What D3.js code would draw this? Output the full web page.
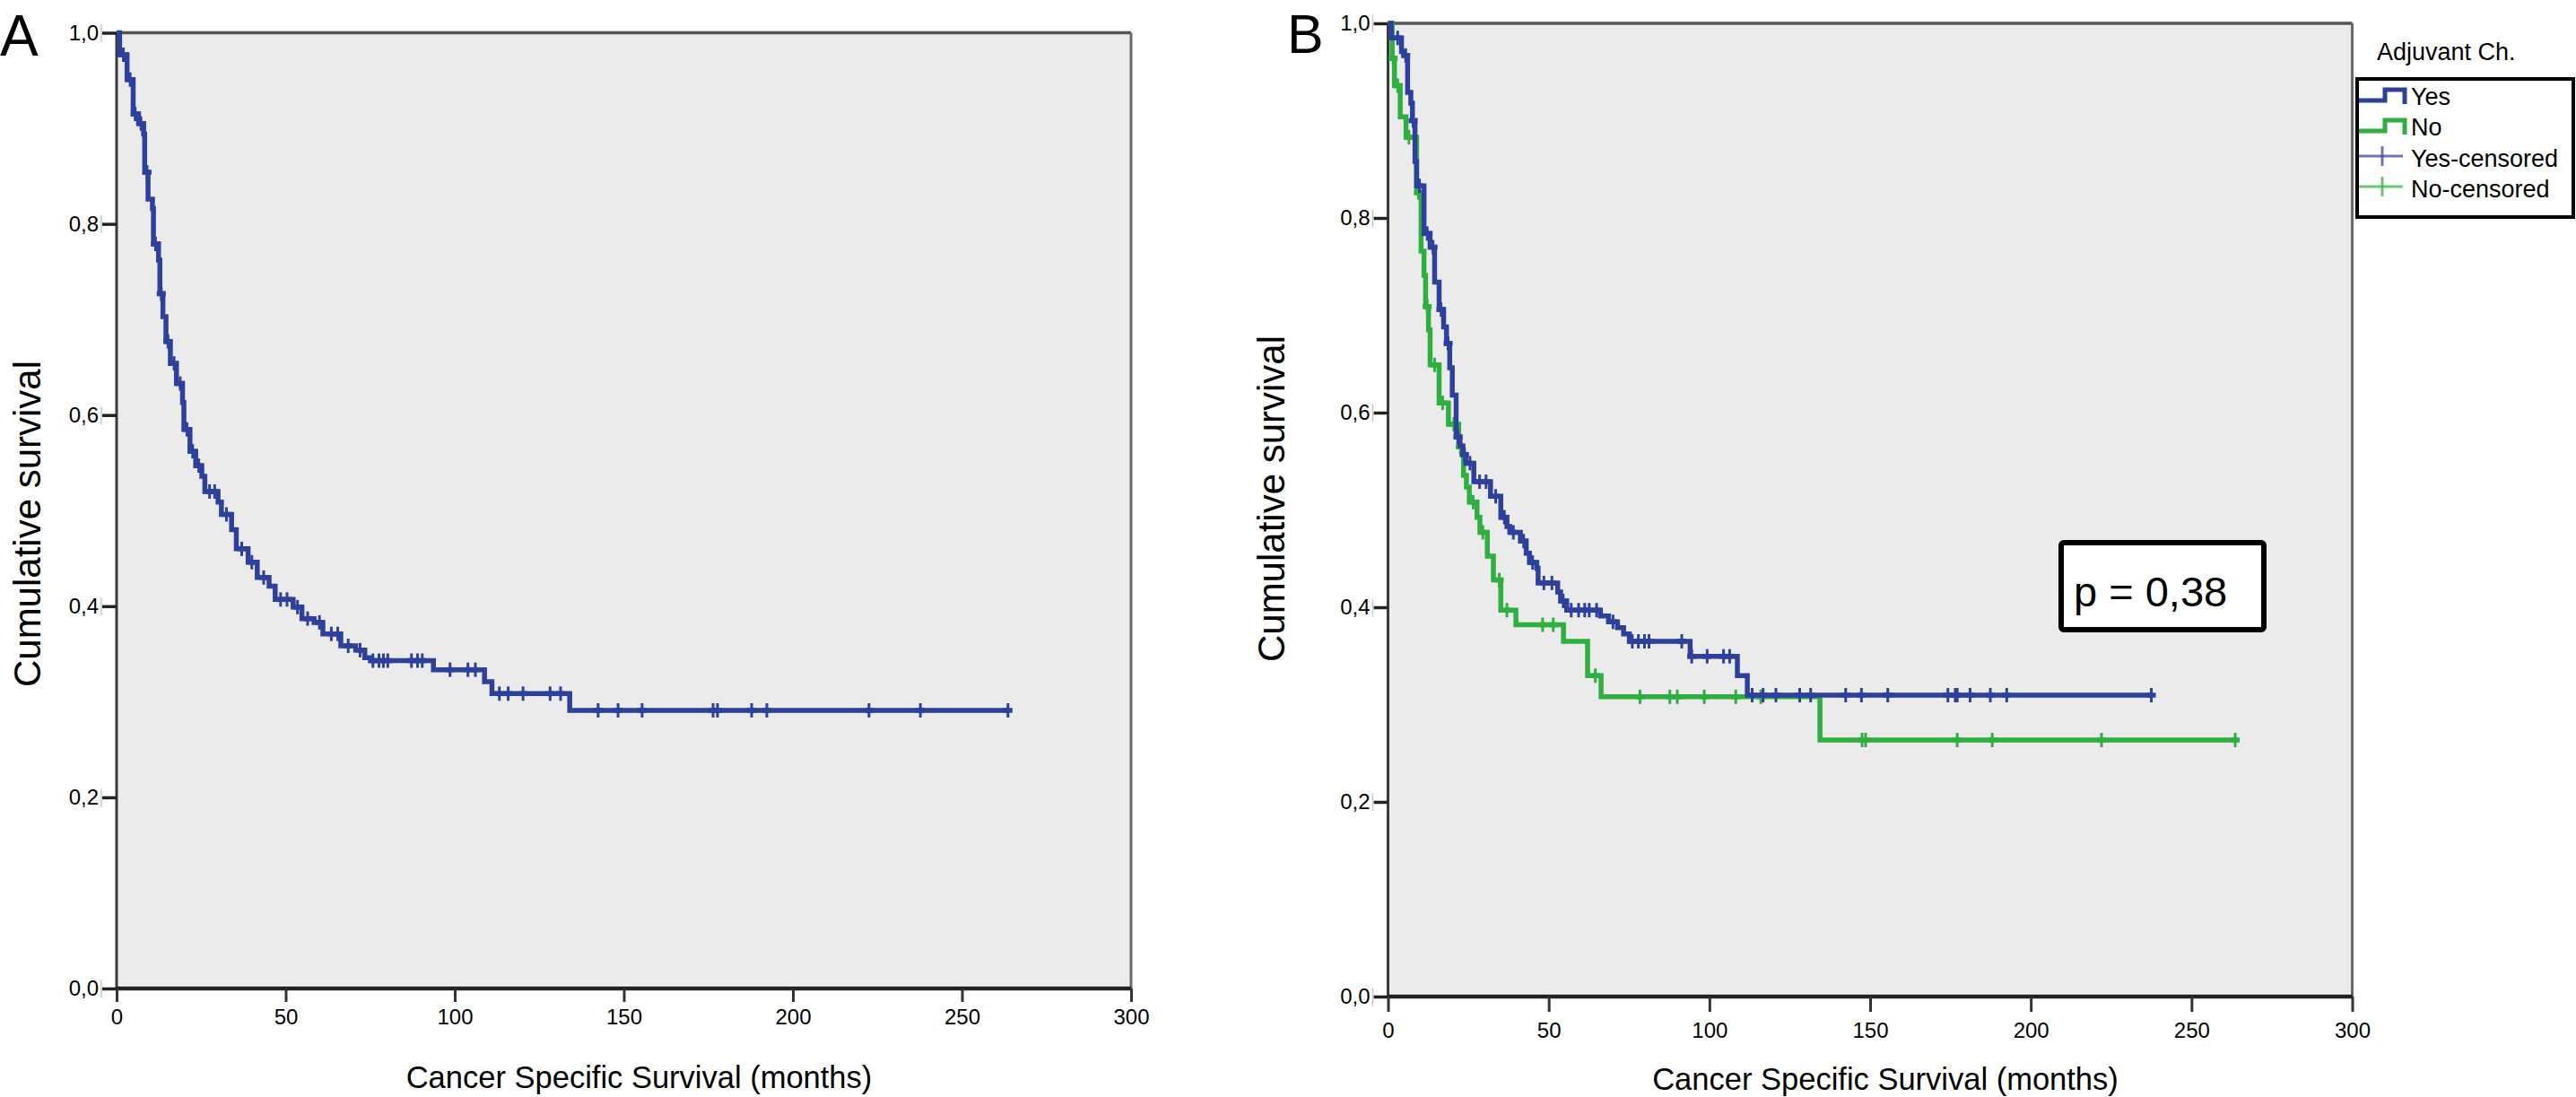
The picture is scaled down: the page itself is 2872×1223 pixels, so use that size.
<!DOCTYPE html>
<html>
<head>
<meta charset="utf-8">
<script src="https://cdn.jsdelivr.net/npm/d3@7"></script>
<style>
  html, body { margin: 0; padding: 0; background: #ffffff; }
  svg { display: block; }
  text { font-family: "Liberation Sans", Arial, Helvetica, sans-serif; fill: #000; }
</style>
</head>
<body>
<svg id="chart" width="2872" height="1223"></svg>
<script>
// ---------------- DATA ----------------
const xTicks = [0, 50, 100, 150, 200, 250, 300];
const yTicks = [0, 0.2, 0.4, 0.6, 0.8, 1.0];

// Panel A – all patients (Kaplan–Meier step estimates, months)
const aTimes = [0, 0.9, 3.1, 4.9, 6.5, 8.0, 8.3, 9.3, 10.6, 10.9, 12.4, 12.8, 13.7, 14.6, 15.9, 17.7, 19.5, 19.9, 21.7, 23.4, 25.2, 26.1, 30.0, 31.0, 34.0, 35.4, 38.9, 41.6, 45.1, 46.9, 52.2, 54.8, 58.4, 61.0, 66.3, 70.7, 73.4, 75.1, 93.7, 108.8, 111.0, 134.0];
const aSurv  = [1.0, 0.977, 0.951, 0.915, 0.905, 0.894, 0.854, 0.826, 0.816, 0.779, 0.762, 0.727, 0.703, 0.677, 0.654, 0.633, 0.613, 0.585, 0.562, 0.547, 0.536, 0.520, 0.509, 0.496, 0.480, 0.460, 0.446, 0.430, 0.421, 0.407, 0.399, 0.387, 0.383, 0.371, 0.3585, 0.354, 0.346, 0.343, 0.3335, 0.321, 0.3085, 0.291];
const aEnd = 263.6;
const aCensored = [2.0, 4.0, 5.5, 7.2, 9.0, 11.5, 13.2, 15.2, 17.0, 18.8, 20.8, 22.5, 24.3, 27.5, 29.0, 32.5, 37.0, 40.0, 43.5, 48.5, 50.4, 53.5, 56.5, 60.0, 63.5, 65.4, 68.5, 72.0, 75.8, 77.6, 78.9, 80.2, 87.2, 89.0, 90.4, 98.6, 103.9, 106.1, 113.2, 115.8, 120.2, 128.2, 131.3, 142.4, 148.3, 155.4, 176.4, 177.7, 187.8, 192.3, 222.5, 237.7, 263.6];

// Panel B – Adjuvant chemotherapy: Yes
const yesTimes = [0, 1.0, 4.2, 5.0, 6.1, 7.1, 7.6, 8.4, 8.9, 11.2, 13.1, 14.5, 15.9, 17.3, 18.2, 19.2, 20.0, 21.2, 22.4, 23.3, 24.2, 26.7, 31.9, 35.1, 37.0, 37.9, 41.2, 43.0, 44.0, 46.3, 46.7, 52.8, 53.7, 55.6, 66.1, 68.6, 71.4, 73.3, 75.1, 94.0, 108.7, 111.8];
const yesSurv  = [1.0, 0.985, 0.971, 0.967, 0.929, 0.918, 0.900, 0.858, 0.833, 0.784, 0.770, 0.734, 0.706, 0.688, 0.671, 0.646, 0.618, 0.575, 0.566, 0.557, 0.548, 0.529, 0.514, 0.4925, 0.483, 0.477, 0.468, 0.4556, 0.446, 0.440, 0.425, 0.4157, 0.4065, 0.397, 0.391, 0.385, 0.379, 0.3726, 0.365, 0.3496, 0.3297, 0.3097];
const yesEnd = 237.5;
const yesCensored = [3.0, 5.5, 7.8, 9.8, 12.2, 14.0, 16.5, 18.7, 21.8, 23.8, 25.5, 28.5, 30.5, 33.5, 36.2, 39.0, 42.2, 45.0, 48.5, 51.0, 54.5, 57.0, 59.3, 61.2, 62.6, 64.9, 70.0, 76.0, 77.9, 79.8, 81.2, 91.4, 94.5, 99.3, 104.4, 106.3, 113.3, 116.7, 120.7, 128.1, 131.5, 142.4, 147.3, 155.5, 174.2, 176.5, 177.1, 181.1, 187.4, 192.5, 237.5];

// Panel B – Adjuvant chemotherapy: No
const noTimes = [0, 1.3, 2.0, 3.8, 5.6, 8.9, 10.3, 11.2, 11.7, 12.6, 13.1, 15.9, 18.8, 22.0, 23.0, 23.5, 24.4, 25.3, 27.7, 28.6, 30.9, 32.8, 35.1, 39.8, 54.6, 62.1, 66.3, 134.4];
const noSurv  = [1.0, 0.964, 0.936, 0.904, 0.883, 0.826, 0.766, 0.741, 0.709, 0.685, 0.649, 0.610, 0.588, 0.565, 0.557, 0.5355, 0.5235, 0.508, 0.4925, 0.477, 0.4525, 0.428, 0.397, 0.382, 0.365, 0.3297, 0.308, 0.2636];
const noEnd = 263.6;
const noCensored = [1.6, 3.0, 6.5, 9.5, 12.2, 14.5, 17.0, 20.5, 22.5, 26.5, 29.5, 34.6, 37.0, 48.1, 51.4, 64.5, 78.4, 87.7, 90.0, 98.4, 108.2, 116.0, 147.5, 148.6, 177.1, 188.0, 222.0, 263.6];

const legendTitle = "Adjuvant Ch.";
const legendLabels = ["Yes", "No", "Yes-censored", "No-censored"];
const pText = "p = 0,38";
const xTitle = "Cancer Specific Survival (months)";
const yTitle = "Cumulative survival";

// ---------------- STYLE ----------------
const BLUE = "#2c409c";
const GREEN = "#2eaf3f";
const PLOT_BG = "#ebebeb";
const FONT_TICK = 24;

const svg = d3.select("#chart");
const fmt = d => d.toFixed(1).replace(".", ",");

function drawPanel(cfg) {
  const x = d3.scaleLinear().domain([0, 300]).range([cfg.x0, cfg.x1]);
  const y = d3.scaleLinear().domain([0, 1]).range([cfg.y0, cfg.y1]);
  const g = svg.append("g");

  // plot background
  g.append("rect")
    .attr("x", x(0)).attr("y", y(1))
    .attr("width", x(300) - x(0)).attr("height", y(0) - y(1) - 3)
    .attr("fill", PLOT_BG);
  // light line just above x-axis
  g.append("line")
    .attr("x1", x(0)).attr("x2", x(300))
    .attr("y1", y(0) - 2.5).attr("y2", y(0) - 2.5)
    .attr("stroke", "#fafafa").attr("stroke-width", 2);

  // frame: top, right, left
  g.append("line").attr("x1", x(0)).attr("x2", x(300)).attr("y1", y(1)).attr("y2", y(1))
    .attr("stroke", "#555").attr("stroke-width", 3.5);
  g.append("line").attr("x1", x(300)).attr("x2", x(300)).attr("y1", y(1)).attr("y2", y(0))
    .attr("stroke", "#6a6a6a").attr("stroke-width", 3);
  g.append("line").attr("x1", x(0)).attr("x2", x(0)).attr("y1", y(1)).attr("y2", y(0))
    .attr("stroke", "#3a3a3a").attr("stroke-width", 3);

  // y axis
  const yAxis = d3.axisLeft(y).tickValues(yTicks).tickFormat(fmt).tickSize(16).tickPadding(4);
  const ya = g.append("g").attr("transform", `translate(${x(0)},0)`).call(yAxis);
  ya.select(".domain").remove();
  ya.selectAll(".tick line").attr("stroke", "#222").attr("stroke-width", 3.5);
  ya.selectAll(".tick text").attr("font-size", FONT_TICK).attr("fill", "#000")
    .attr("font-family", '"Liberation Sans", Arial, sans-serif');
  ya.selectAll(".tick").append("line")
    .attr("x1", -17).attr("x2", -17).attr("y1", -10).attr("y2", 10)
    .attr("stroke", "#c8c8c8").attr("stroke-width", 1.5);

  // x axis
  const xAxis = d3.axisBottom(x).tickValues(xTicks).tickFormat(d3.format("d"))
    .tickSize(cfg.xTickLen).tickPadding(cfg.xTickPad);
  const xa = g.append("g").attr("transform", `translate(0,${y(0)})`).call(xAxis);
  xa.select(".domain").attr("stroke", "#222").attr("stroke-width", 4.5)
    .attr("d", `M${x(0)},0H${x(300)}`);
  xa.selectAll(".tick line").attr("stroke", "#333").attr("stroke-width", 3);
  xa.selectAll(".tick text").attr("font-size", FONT_TICK).attr("fill", "#000")
    .attr("font-family", '"Liberation Sans", Arial, sans-serif');

  // axis titles
  g.append("text")
    .attr("x", (x(0) + x(300)) / 2 + 17).attr("y", cfg.xTitleY)
    .attr("text-anchor", "middle").attr("font-size", 34.5).text(xTitle);
  g.append("text")
    .attr("transform", `translate(${cfg.yTitleX},${cfg.yTitleCY}) rotate(-90)`)
    .attr("text-anchor", "middle").attr("font-size", cfg.yTitleSize).text(yTitle);

  // panel letter
  g.append("text").attr("x", cfg.letterX).attr("y", cfg.letterY)
    .attr("font-size", cfg.letterSize).text(cfg.letter);

  return { g, x, y };
}

function drawKM(p, times, surv, end, censored, color) {
  const pts = times.map((t, i) => [t, surv[i]]);
  pts.push([end, surv[surv.length - 1]]);
  const line = d3.line().x(d => p.x(d[0])).y(d => p.y(d[1])).curve(d3.curveStepAfter);
  p.g.append("path").datum(pts)
    .attr("fill", "none").attr("stroke", color).attr("stroke-width", 5.5)
    .attr("stroke-linejoin", "miter").attr("d", line);
  const S = t => surv[Math.max(0, d3.bisectRight(times, t) - 1)];
  p.g.append("g").selectAll("line").data(censored).join("line")
    .attr("x1", d => p.x(d)).attr("x2", d => p.x(d))
    .attr("y1", d => p.y(S(d)) - 8).attr("y2", d => p.y(S(d)) + 8)
    .attr("stroke", color).attr("stroke-width", 3);
  p.g.append("g").selectAll("line").data(censored).join("line")
    .attr("x1", d => p.x(d) - 5).attr("x2", d => p.x(d) + 5)
    .attr("y1", d => p.y(S(d))).attr("y2", d => p.y(S(d)))
    .attr("stroke", color).attr("stroke-width", 5.5);
}

// ---------------- PANEL A ----------------
const pA = drawPanel({
  x0: 130, x1: 1261, y0: 1102, y1: 36.5,
  xTickLen: 15, xTickPad: 8, xTitleY: 1213,
  yTitleX: 45, yTitleCY: 584, yTitleSize: 42,
  letter: "A", letterX: 0, letterY: 62, letterSize: 64
});
drawKM(pA, aTimes, aSurv, aEnd, aCensored, BLUE);

// ---------------- PANEL B ----------------
const pB = drawPanel({
  x0: 1547.5, x1: 2622.5, y0: 1111, y1: 26,
  xTickLen: 17, xTickPad: 12, xTitleY: 1215,
  yTitleX: 1432, yTitleCY: 556, yTitleSize: 42,
  letter: "B", letterX: 1435, letterY: 59, letterSize: 61
});
drawKM(pB, noTimes, noSurv, noEnd, noCensored, GREEN);
drawKM(pB, yesTimes, yesSurv, yesEnd, yesCensored, BLUE);

// p-value box
const pg = svg.append("g");
pg.append("rect").attr("x", 2298).attr("y", 605).attr("width", 226).attr("height", 97)
  .attr("rx", 3).attr("fill", "#fff").attr("stroke", "#000").attr("stroke-width", 6);
pg.append("text").attr("x", 2312).attr("y", 676).attr("font-size", 47).text(pText);

// ---------------- LEGEND ----------------
const lg = svg.append("g");
lg.append("text").attr("x", 2650).attr("y", 67).attr("font-size", 27).text(legendTitle);
lg.append("rect").attr("x", 2628).attr("y", 88).attr("width", 241).attr("height", 154)
  .attr("fill", "#fff").attr("stroke", "#000").attr("stroke-width", 4);
const rowY = [117, 151, 186, 220];
const legendColors = [BLUE, GREEN, BLUE, GREEN];
legendLabels.forEach((lab, i) => {
  const by = rowY[i];
  if (i < 2) {
    lg.append("path")
      .attr("d", `M2630,${by - 5}H2659V${by - 17}H2681V${by - 1}`)
      .attr("fill", "none").attr("stroke", legendColors[i]).attr("stroke-width", 5);
  } else {
    const cy = by - 12;
    lg.append("line").attr("x1", 2630).attr("x2", 2679).attr("y1", cy).attr("y2", cy)
      .attr("stroke", legendColors[i]).attr("stroke-width", 3).attr("opacity", 0.7);
    lg.append("line").attr("x1", 2656).attr("x2", 2656).attr("y1", cy - 11).attr("y2", cy + 11)
      .attr("stroke", legendColors[i]).attr("stroke-width", 3).attr("opacity", 0.7);
  }
  lg.append("text").attr("x", 2688).attr("y", by).attr("font-size", 27).text(lab);
});
</script>
</body>
</html>
